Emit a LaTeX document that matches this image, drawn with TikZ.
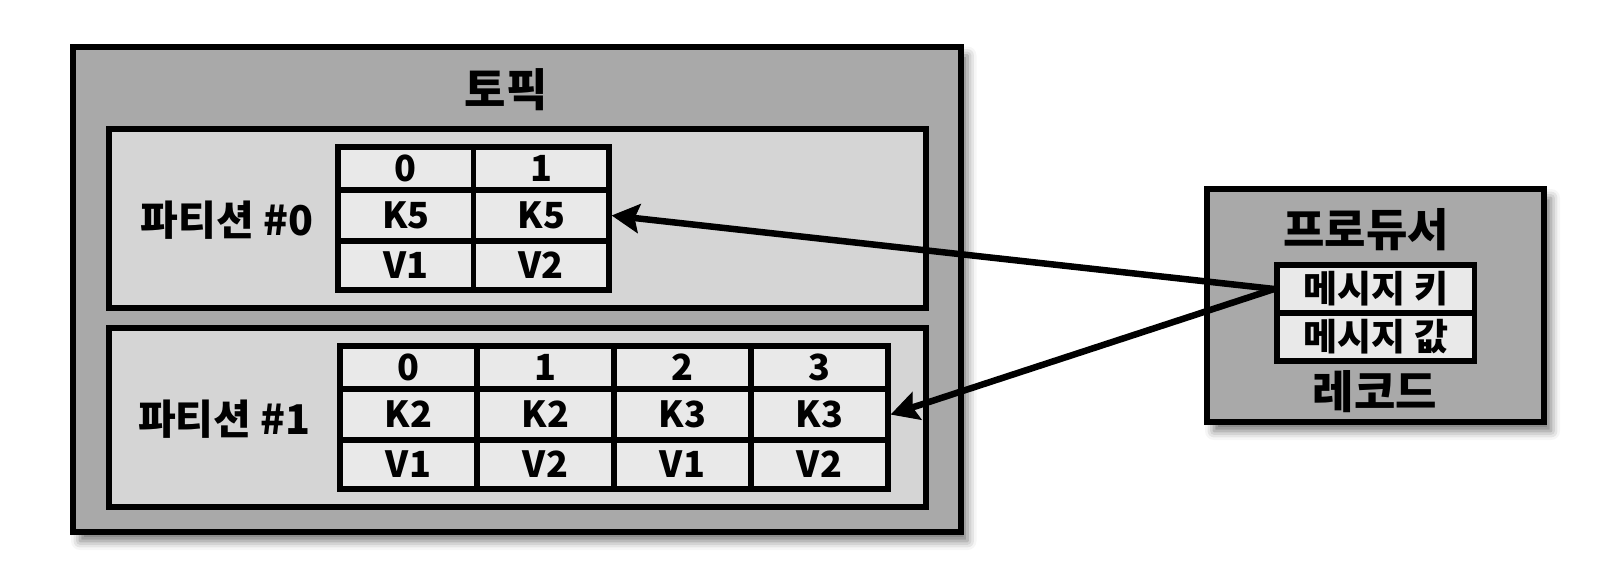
\documentclass[tikz,border=0pt]{standalone}
\usepackage{fontspec}
\setmainfont{Noto Sans CJK KR}[Kerning=Off]
\usetikzlibrary{arrows.meta,shadows.blur}
\definecolor{topicgray}{HTML}{A9A9A9}
\definecolor{partgray}{HTML}{D5D5D5}
\definecolor{cellgray}{HTML}{E9E9E9}
\tikzset{
	box/.style={line width=6pt, draw=black},
	boxshadow/.style={blur shadow={shadow xshift=7pt, shadow yshift=-9pt, shadow blur radius=9pt, shadow opacity=55}},
	label/.style={font=\fontsize{41}{43}\selectfont\bfseries, inner sep=0pt},
	biglabel/.style={label, font=\fontsize{45}{47}\selectfont\bfseries},
	cell/.style={draw, line width=5.5pt, fill=cellgray, inner sep=0pt, font=\fontsize{36}{38}\selectfont\bfseries},
	ca/.style={cell, minimum width=135.5pt},
	cb/.style={cell, minimum width=137pt},
	hrow/.style={minimum height=43pt},
	krow/.style={minimum height=51pt},
	vrow/.style={minimum height=49pt},
	rrow/.style={cell, minimum width=197.5pt, minimum height=48pt, font=\fontsize{37}{39}\selectfont\bfseries},
	send/.style={line width=6.5pt, -{Stealth[length=28pt, width=30pt, inset=5pt, fill=black, line width=1pt]}}
}

\begin{document}
\begin{tikzpicture}[x=1pt, y=-1pt]
		%%%%% START %%%%%
		\useasboundingbox (0, 0) rectangle (1612, 570);
		
		% topic
		\draw[box, fill=topicgray, boxshadow] (73, 46.5) rectangle (960.5, 532);
		\node[biglabel] (topic) at (506, 90) {토픽};
		
		% partition 0
		\draw[box, fill=partgray] (109, 129) rectangle (926, 307.5);
		\node[label] (p0) at (227, 220) {파티션 \#0};
		\node[ca, hrow] (p0h1) at (405.75, 168.5) {0};
		\node[ca, hrow] (p0h2) at (541.25, 168.5) {1};
		\node[ca, krow] (p0k1) at (405.75, 215.5) {K5};
		\node[ca, krow] (p0k2) at (541.25, 215.5) {K5};
		\node[ca, vrow] (p0v1) at (405.75, 265.5) {V1};
		\node[ca, vrow] (p0v2) at (541.25, 265.5) {V2};
		
		% partition 1
		\draw[box, fill=partgray] (109, 328) rectangle (926, 507);
		\node[label] (p1) at (224.5, 419) {파티션 \#1};
		\node[cb, hrow] (p1h1) at (408.5, 367.5) {0};
		\node[cb, hrow] (p1h2) at (545.5, 367.5) {1};
		\node[cb, hrow] (p1h3) at (682.5, 367.5) {2};
		\node[cb, hrow] (p1h4) at (819.5, 367.5) {3};
		\node[cb, krow] (p1k1) at (408.5, 414.5) {K2};
		\node[cb, krow] (p1k2) at (545.5, 414.5) {K2};
		\node[cb, krow] (p1k3) at (682.5, 414.5) {K3};
		\node[cb, krow] (p1k4) at (819.5, 414.5) {K3};
		\node[cb, vrow] (p1v1) at (408.5, 464.5) {V1};
		\node[cb, vrow] (p1v2) at (545.5, 464.5) {V2};
		\node[cb, vrow] (p1v3) at (682.5, 464.5) {V1};
		\node[cb, vrow] (p1v4) at (819.5, 464.5) {V2};
		
		% producer
		\draw[box, fill=topicgray, boxshadow] (1207, 189) rectangle (1544, 422);
		\node[biglabel] (producer) at (1366, 230) {프로듀서};
		\node[rrow] (rkey) at (1375.75, 289) {메시지 키};
		\node[rrow] (rval) at (1375.75, 337) {메시지 값};
		\node[biglabel] (record) at (1375, 392) {레코드};
		
		% sends
		\draw[send] (rkey.west) -- (p0k2.east);
		\draw[send] (rkey.west) -- (p1k4.east);
		
		%%%%% END %%%%%
	\end{tikzpicture}
\end{document}
